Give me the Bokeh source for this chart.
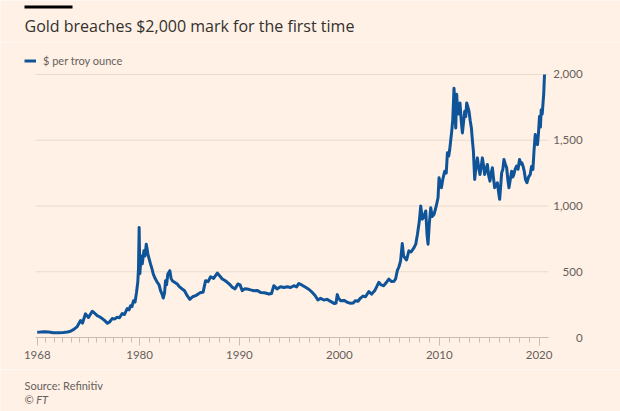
from bokeh.plotting import figure
from bokeh.layouts import column, row
from bokeh.models import (FixedTicker, CustomJSTickFormatter, NumeralTickFormatter,
                          Range1d, ColumnDataSource, LinearAxis, Legend, LegendItem)
from bokeh.core.properties import value
from bokeh.embed import file_html
from bokeh.resources import INLINE

# ---- data ----
years = [
    1968.00, 1968.39, 1968.86, 1969.32, 1969.91, 1970.50, 1971.08, 1971.55, 1971.90, 1972.29,
    1972.69, 1973.08, 1973.31, 1973.66, 1974.01, 1974.45, 1974.72, 1975.03, 1975.30, 1975.62,
    1975.89, 1976.24, 1976.48, 1976.79, 1977.06, 1977.38, 1977.65, 1977.96, 1978.23, 1978.55,
    1978.76, 1978.94, 1979.11, 1979.29, 1979.47, 1979.64, 1979.79, 1979.87, 1979.95, 1980.03,
    1980.15, 1980.27, 1980.43, 1980.55, 1980.67, 1980.83, 1980.95, 1981.10, 1981.25, 1981.37,
    1981.55, 1981.77, 1981.95, 1982.10, 1982.25, 1982.37, 1982.50, 1982.60, 1982.70, 1982.83,
    1983.03, 1983.15, 1983.27, 1983.50, 1983.77, 1984.00, 1984.27, 1984.50, 1984.77, 1985.03,
    1985.31, 1985.61, 1985.86, 1986.11, 1986.36, 1986.61, 1986.86, 1987.11, 1987.41, 1987.78,
    1988.01, 1988.28, 1988.51, 1988.78, 1989.01, 1989.28, 1989.56, 1989.84, 1990.06, 1990.28,
    1990.51, 1990.78, 1991.11, 1991.44, 1991.76, 1992.11, 1992.51, 1992.94, 1993.21, 1993.44,
    1993.76, 1994.11, 1994.46, 1994.78, 1995.12, 1995.45, 1995.72, 1995.95, 1996.27, 1996.62,
    1996.97, 1997.29, 1997.57, 1997.85, 1998.12, 1998.45, 1998.77, 1999.12, 1999.52, 1999.67,
    1999.79, 1999.92, 2000.12, 2000.47, 2000.79, 2001.12, 2001.37, 2001.62, 2001.87, 2002.12,
    2002.37, 2002.62, 2002.95, 2003.23, 2003.53, 2003.73, 2003.95, 2004.17, 2004.45, 2004.72,
    2004.95, 2005.23, 2005.46, 2005.63, 2005.80, 2005.98, 2006.13, 2006.30, 2006.43, 2006.53,
    2006.73, 2006.96, 2007.18, 2007.48, 2007.65, 2007.82, 2008.00, 2008.15, 2008.30, 2008.42,
    2008.65, 2008.78, 2008.88, 2009.00, 2009.15, 2009.30, 2009.48, 2009.70, 2009.88, 2009.98,
    2010.22, 2010.35, 2010.55, 2010.70, 2010.82, 2010.95, 2011.05, 2011.15, 2011.25, 2011.35,
    2011.48, 2011.55, 2011.65, 2011.75, 2011.82, 2011.95, 2012.08, 2012.20, 2012.32, 2012.45,
    2012.55, 2012.65, 2012.75, 2012.88, 2012.98, 2013.10, 2013.22, 2013.32, 2013.42, 2013.55,
    2013.68, 2013.82, 2013.95, 2014.08, 2014.20, 2014.32, 2014.45, 2014.55, 2014.70, 2014.82,
    2014.95, 2015.08, 2015.20, 2015.32, 2015.45, 2015.55, 2015.68, 2015.82, 2015.95, 2016.05,
    2016.15, 2016.25, 2016.37, 2016.48, 2016.61, 2016.75, 2016.87, 2016.98, 2017.11, 2017.25,
    2017.37, 2017.47, 2017.60, 2017.74, 2017.89, 2018.04, 2018.17, 2018.27, 2018.40, 2018.51,
    2018.64, 2018.78, 2018.94, 2019.11, 2019.24, 2019.38, 2019.49, 2019.61, 2019.73, 2019.84,
    2019.94, 2020.04, 2020.13, 2020.21, 2020.31, 2020.38, 2020.46, 2020.54,
]
price = [
    40, 41, 44, 42, 36, 36, 38, 42, 48, 62,
    83, 129, 110, 180, 152, 200, 185, 167, 158, 144,
    130, 108, 118, 144, 140, 154, 150, 182, 175, 220,
    210, 242, 235, 280, 270, 343, 420, 520, 836, 485,
    620, 560, 659, 620, 710, 636, 600, 558, 520, 483,
    450, 420, 400, 356, 330, 300, 340, 432, 400, 483,
    508, 450, 432, 420, 407, 385, 369, 356, 318, 290,
    310, 318, 330, 343, 345, 432, 425, 462, 450, 490,
    470, 445, 435, 420, 405, 382, 370, 407, 400, 356,
    370, 369, 362, 356, 358, 343, 340, 331, 335, 394,
    370, 386, 380, 386, 380, 394, 385, 411, 398, 382,
    365, 343, 320, 285, 298, 285, 290, 275, 258, 262,
    326, 300, 280, 282, 268, 260, 262, 280, 276, 300,
    315, 310, 350, 330, 355, 385, 420, 400, 394, 420,
    445, 425, 427, 445, 508, 540, 583, 714, 620, 608,
    590, 659, 650, 684, 710, 785, 880, 1000, 900, 912,
    962, 780, 710, 860, 987, 920, 937, 1000, 1063, 1215,
    1139, 1200, 1265, 1250, 1404, 1380, 1429, 1500, 1568, 1650,
    1896, 1780, 1593, 1850, 1745, 1700, 1783, 1650, 1556, 1650,
    1720, 1680, 1783, 1750, 1720, 1650, 1593, 1500, 1417, 1202,
    1300, 1366, 1290, 1240, 1300, 1366, 1300, 1240, 1280, 1316,
    1230, 1189, 1250, 1291, 1200, 1139, 1160, 1177, 1100, 1051,
    1150, 1252, 1280, 1354, 1320, 1291, 1200, 1139, 1200, 1265,
    1220, 1240, 1280, 1303, 1280, 1354, 1320, 1328, 1300, 1265,
    1200, 1177, 1220, 1240, 1300, 1278, 1420, 1543, 1480, 1467,
    1560, 1681, 1600, 1732, 1700, 1770, 1850, 2000,
]
label_years = [1968, 1980, 1990, 2000, 2010, 2020]
y_ticks = [0, 500, 1000, 1500, 2000]

TITLE = "Gold breaches $2,000 mark for the first time"
SERIES = "$ per troy ounce"
SOURCE = "Source: Refinitiv"
CREDIT = "© FT"

# The reference axis is compressed before 1980 (1968-1980 spacing is narrower)
PRE_SCALE = 0.854


def axis_pos(y):
    return y if y >= 1980 else 1980 - (1980 - y) * PRE_SCALE


# visible window of the chart area (the plot area fills the whole middle band)
X_VIEW = (1966.076, 2028.148)
Y_VIEW = (-243.3, 2243.3)
X_START, X_AXIS_END = 1969.58, 2020.94   # extent of time axis and gridlines
VALUE_AXIS_AT = 2024.55                  # value labels hang to the left of this

BG = "#fff1e5"
TXT = "#66605c"
DARK = "#33302e"
BLUE = "#0f5499"
GRID = "#e8dccf"
AXIS = "#c9beb4"
FONT = "Lato"


def blank(w, h):
    f = figure(width=w, height=h, x_range=Range1d(0, w), y_range=Range1d(h, 0),
               x_axis_location=None, y_axis_location=None, min_border=0,
               output_backend="svg", toolbar_location=None,
               background_fill_color=BG, border_fill_color=BG)
    f.outline_line_color = None
    f.xgrid.visible = False
    f.ygrid.visible = False
    return f


# ---- header: rule and title ----
head = blank(620, 42)
head.quad(left=[24], right=[72], top=[5], bottom=[8], fill_color="#000000", line_color=None)
head.text(x=[24], y=[25.8], text=[TITLE], text_font=value("Open Sans"), text_font_size="16px",
          text_color=DARK, text_baseline="middle", text_align="left")

# ---- main chart ----
src = ColumnDataSource(dict(x=[axis_pos(y) for y in years], price=price))

p = figure(width=620, height=327, frame_width=620, frame_height=327, min_border=0,
           x_range=Range1d(*X_VIEW), y_range=Range1d(*Y_VIEW),
           y_axis_location=None, output_backend="svg", toolbar_location=None,
           background_fill_color=BG, border_fill_color=BG)
p.outline_line_color = None
p.xgrid.visible = False
p.ygrid.visible = False

# horizontal gridlines, ending where the time axis ends
gl = y_ticks[1:]
p.segment(x0=[X_START] * len(gl), y0=gl, x1=[X_AXIS_END] * len(gl), y1=gl,
          line_color=GRID, line_width=1)

r = p.line("x", "price", source=src, line_color=BLUE, line_width=3, line_join="round")

xa = p.xaxis[0]
xa.fixed_location = 0
xa.bounds = (X_START, X_AXIS_END)
xa.ticker = FixedTicker(ticks=[axis_pos(y) for y in label_years],
                        minor_ticks=[axis_pos(y) for y in range(1968, 2021)])
xa.formatter = CustomJSTickFormatter(code="""
const y = tick < 1980 ? 1980 - (1980 - tick) / %f : tick;
return Math.round(y).toString();
""" % PRE_SCALE)
xa.axis_line_color = AXIS
xa.major_tick_line_color = AXIS
xa.minor_tick_line_color = AXIS
xa.major_tick_out = 8
xa.major_tick_in = 0
xa.minor_tick_out = 5
xa.minor_tick_in = 0
xa.major_label_standoff = 5
xa.major_label_text_font = FONT
xa.major_label_text_font_size = "11.5px"
xa.major_label_text_color = TXT

# value axis: labels right-aligned, hanging to the left of a fixed position
ya = LinearAxis(fixed_location=VALUE_AXIS_AT, ticker=FixedTicker(ticks=y_ticks),
                formatter=NumeralTickFormatter(format="0,0"))
ya.axis_line_color = None
ya.major_tick_line_color = None
ya.minor_tick_line_color = None
ya.major_tick_out = 0
ya.major_tick_in = 0
ya.major_label_standoff = 2
ya.major_label_text_font = FONT
ya.major_label_text_font_size = "11.5px"
ya.major_label_text_color = TXT
p.add_layout(ya, "left")

leg = Legend(items=[LegendItem(label=SERIES, renderers=[r])], location=(24, 302),
             glyph_width=12, glyph_height=13, label_height=13, label_width=10,
             label_standoff=7, padding=0, margin=0, spacing=0,
             border_line_color=None, background_fill_alpha=0,
             label_text_font=FONT, label_text_font_size="11px", label_text_color=TXT)
p.add_layout(leg)

# ---- footer ----
foot = blank(620, 42)
foot.text(x=[24, 24], y=[16, 29.5], text=[SOURCE, CREDIT], text_font=value(FONT),
          text_font_size="11px", text_color=TXT, text_baseline="middle",
          text_font_style=["normal", "italic"])

layout = column(head, row(p), foot, spacing=0)
open("out.html", "w").write(file_html(layout, INLINE))
